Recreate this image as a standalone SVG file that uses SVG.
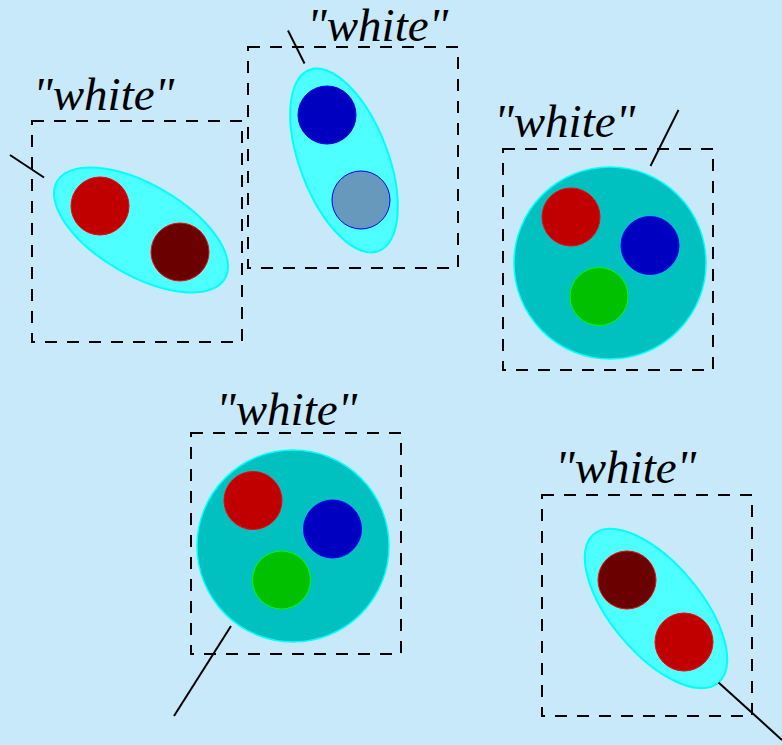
<svg xmlns="http://www.w3.org/2000/svg" width="782" height="745" viewBox="0 0 782 745">
<style>
.box{fill:none;stroke:#000;stroke-width:2;stroke-dasharray:12,10}
.lbl{font-family:"Liberation Serif","Times New Roman",serif;font-style:italic;font-size:47px;fill:#000}
.ell{fill:#4dffff;stroke:#00ffff;stroke-width:2}
.big{fill:#00c0c0;stroke:#00ffff;stroke-width:1.5}
.red{fill:#c00000;stroke:#ff0000;stroke-width:1}
.dred{fill:#6b0000;stroke:#ff0000;stroke-width:1}
.blue{fill:#0000c0;stroke:#0000ff;stroke-width:1}
.gblue{fill:#6699bb;stroke:#0000ff;stroke-width:1}
.green{fill:#00c000;stroke:#00ff00;stroke-width:1}
.con{stroke:#000;stroke-width:2;fill:none}
</style>
<rect width="782" height="745" fill="#c7e9f9"/>
<g id="node1">
<rect class="box" x="32" y="121" width="210" height="221"/>
<text class="lbl" x="33" y="110">"white"</text>
<ellipse class="ell" cx="141" cy="230" rx="97" ry="45.5" transform="rotate(30 141 230)"/>
<circle class="red" cx="100" cy="206" r="29"/>
<circle class="dred" cx="180" cy="252" r="29"/>
</g>
<g id="node2">
<rect class="box" x="248" y="47" width="210" height="221"/>
<text class="lbl" x="307" y="41">"white"</text>
<ellipse class="ell" cx="344" cy="160.5" rx="97" ry="44" transform="rotate(69 344 160.5)"/>
<circle class="blue" cx="327" cy="115" r="29"/>
<circle class="gblue" cx="361" cy="200" r="29"/>
</g>
<g id="node3">
<rect class="box" x="503" y="149" width="210" height="221"/>
<text class="lbl" x="494" y="137">"white"</text>
<circle class="big" cx="610" cy="263" r="96"/>
<circle class="red" cx="571" cy="217" r="29"/>
<circle class="blue" cx="650" cy="245.5" r="29"/>
<circle class="green" cx="599" cy="296.5" r="29"/>
</g>
<g id="node4">
<rect class="box" x="191" y="433" width="210" height="221"/>
<text class="lbl" x="216" y="425">"white"</text>
<circle class="big" cx="293" cy="546" r="96"/>
<circle class="red" cx="253" cy="500.5" r="29"/>
<circle class="blue" cx="332.5" cy="529" r="29"/>
<circle class="green" cx="281.5" cy="580" r="29"/>
</g>
<g id="node5">
<rect class="box" x="542" y="495" width="210" height="221"/>
<text class="lbl" x="555" y="483">"white"</text>
<ellipse class="ell" cx="656" cy="608.5" rx="97" ry="45" transform="rotate(50 656 608.5)"/>
<circle class="dred" cx="627" cy="580" r="29"/>
<circle class="red" cx="684" cy="642" r="29"/>
</g>
<g id="connectors">
<line class="con" x1="10" y1="155" x2="44" y2="177.5"/>
<line class="con" x1="288" y1="30.5" x2="304.5" y2="63.5"/>
<line class="con" x1="678.5" y1="110" x2="650.5" y2="166"/>
<line class="con" x1="231" y1="626" x2="174" y2="716"/>
<line class="con" x1="718.5" y1="682.5" x2="782" y2="740"/>
</g>
</svg>
